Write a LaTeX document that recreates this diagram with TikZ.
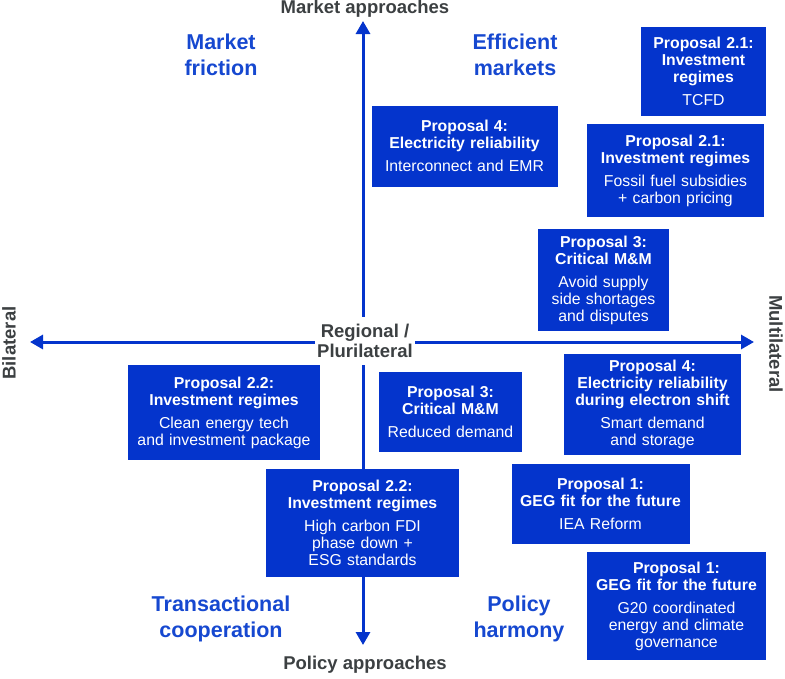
\documentclass[tikz,border=0pt]{standalone}
\usepackage{fontspec}
\setmainfont{Liberation Sans}
\usetikzlibrary{arrows.meta}
\definecolor{propblue}{RGB}{4,52,204}
\definecolor{quadblue}{RGB}{22,72,208}
\definecolor{axisgrey}{RGB}{60,64,66}
\newcommand{\propfont}{\fontsize{15.8}{17}\selectfont}
\newcommand{\proposal}[2]{\textbf{#1}\\[6pt]#2}
\tikzset{
	propbox/.style={fill=propblue, text=white, align=center, inner sep=0pt, font=\propfont},
	quad/.style={text=quadblue, align=center, font=\fontsize{21.5}{26}\selectfont\bfseries},
	axislabel/.style={text=axisgrey, font=\fontsize{18.5}{20}\selectfont\bfseries},
	axis/.style={draw=propblue, line width=3pt, >={Triangle[length=13pt,width=14pt]}, <->}
}

\begin{document}
\begin{tikzpicture}[x=1pt,y=-1pt]
	\useasboundingbox (0,0) rectangle (785,678);
	% axes
	\coordinate (top) at (363,21);
	\coordinate (bot) at (363,645);
	\coordinate (west) at (30,342);
	\coordinate (east) at (754,342);
	\draw[axis] (top) -- (bot);
	\draw[axis] (west) -- (east);
	\node[axislabel, fill=white, align=center, inner sep=1pt,
		minimum width=100pt, minimum height=48pt] (mid) at (365,341) {Regional /\\Plurilateral};
	\node[axislabel] (mkt) at (365,9) {Market approaches};
	\node[axislabel] (pol) at (365,665) {Policy approaches};
	\node[axislabel, rotate=90] (bil) at (9,343) {Bilateral};
	\node[axislabel, rotate=-90] (mul) at (776,344) {Multilateral};
	% quadrants
	\node[quad] (fric) at (221,55) {Market\\friction};
	\node[quad] (eff) at (515,55) {Efficient\\markets};
	\node[quad] (trans) at (221,619) {Transactional\\cooperation};
	\node[quad] (harm) at (519,619) {Policy\\harmony};
	% proposals
	\node[propbox, text width=125pt, minimum height=89pt] (tcfd) at (703.5,71.5)
		{\proposal{Proposal 2.1:\\Investment\\regimes}{TCFD}};
	\node[propbox, text width=186pt, minimum height=81pt] (elecA) at (464.5,146)
		{\proposal{Proposal 4:\\Electricity reliability}{Interconnect and EMR}};
	\node[propbox, text width=177pt, minimum height=93pt] (fossil) at (675.5,170.5)
		{\proposal{Proposal 2.1:\\Investment regimes}{Fossil fuel subsidies\\+ carbon pricing}};
	\node[propbox, text width=131pt, minimum height=102pt] (mmA) at (603.5,280)
		{\proposal{Proposal 3:\\Critical M\&M}{Avoid supply\\side shortages\\and disputes}};
	\node[propbox, text width=192pt, minimum height=95pt] (clean) at (224,412.5)
		{\proposal{Proposal 2.2:\\Investment regimes}{Clean energy tech\\and investment package}};
	\node[propbox, text width=143pt, minimum height=80pt] (mmB) at (450.5,412)
		{\proposal{Proposal 3:\\Critical M\&M}{Reduced demand}};
	\node[propbox, text width=177pt, minimum height=101pt] (elecB) at (652.5,404.5)
		{\proposal{Proposal 4:\\Electricity reliability\\during electron shift}{Smart demand\\and storage}};
	\node[propbox, text width=178pt, minimum height=80pt] (gegA) at (600.5,504)
		{\proposal{Proposal 1:\\GEG fit for the future}{IEA Reform}};
	\node[propbox, text width=193pt, minimum height=108pt] (fdi) at (362.5,523)
		{\proposal{Proposal 2.2:\\Investment regimes}{High carbon FDI\\phase down +\\ESG standards}};
	\node[propbox, text width=179pt, minimum height=108pt] (gegB) at (676.5,606)
		{\proposal{Proposal 1:\\GEG fit for the future}{G20 coordinated\\energy and climate\\governance}};
\end{tikzpicture}
\end{document}
